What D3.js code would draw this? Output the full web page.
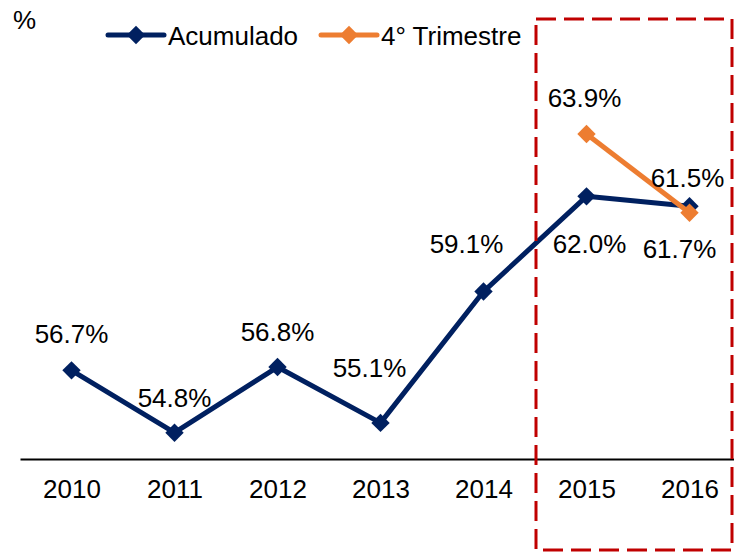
<!DOCTYPE html>
<html>
<head>
<meta charset="utf-8">
<script src="https://cdn.jsdelivr.net/npm/d3@7"></script>
<style>
  html, body { margin: 0; padding: 0; background: #fff; }
  svg { display: block; font-family: "Liberation Sans", Arial, sans-serif; }
</style>
</head>
<body>
<svg id="chart" width="734" height="553"></svg>
<script>
// ---- data ----
const years = ["2010", "2011", "2012", "2013", "2014", "2015", "2016"];
const acumulado = [56.7, 54.8, 56.8, 55.1, 59.1, 62.0, 61.7];
const trimYears = ["2015", "2016"];
const trimestre = [63.9, 61.5];
const seriesNames = ["Acumulado", "4° Trimestre"];
const yAxisLabel = "%";

// label placement (offsets from point: dx, dy to baseline)
const acumLabelOffsets = [[0, -27], [0, -26], [0, -26], [-11, -46], [-17, -39], [3, 57], [-10, 52]];
const trimLabelOffsets = [[-2, -27], [-2, -26]];

const navy = "#002060";
const orange = "#ED7D31";
const fontSize = 26;

const svg = d3.select("#chart");

const x = d3.scalePoint().domain(years).range([20, 741]).padding(0.5);
const y = d3.scaleLinear().domain([54, 66]).range([459, 65]);

// axis
const axis = d3.axisBottom(x).tickSize(0).tickPadding(21);
const gAxis = svg.append("g").attr("transform", `translate(0,${y(54)})`).call(axis);
gAxis.select(".domain").attr("stroke", "#000").attr("stroke-width", 2);
gAxis.selectAll("text").attr("font-size", fontSize).attr("font-family", "Liberation Sans, Arial, sans-serif").attr("fill", "#000");

// y label
svg.append("text").attr("x", 13).attr("y", 29).attr("font-size", fontSize).text(yAxisLabel);

const diamond = d3.symbol().type(d3.symbolSquare).size(169);

function drawSeries(xs, vals, color, offsets) {
  const pts = xs.map((k, i) => ({ k, v: vals[i], off: offsets[i] }));
  const line = d3.line().x(d => x(d.k)).y(d => y(d.v));
  svg.append("path").datum(pts)
    .attr("d", line).attr("fill", "none")
    .attr("stroke", color).attr("stroke-width", 5).attr("stroke-linejoin", "round");
  svg.append("g").selectAll("path").data(pts).join("path")
    .attr("d", diamond)
    .attr("transform", d => `translate(${x(d.k)},${y(d.v)}) rotate(45)`)
    .attr("fill", color);
  return pts;
}

const acPts = drawSeries(years, acumulado, navy, acumLabelOffsets);
const trPts = drawSeries(trimYears, trimestre, orange, trimLabelOffsets);

// labels
function drawLabels(pts) {
  svg.append("g").selectAll("text").data(pts).join("text")
    .attr("x", d => x(d.k) + d.off[0])
    .attr("y", d => y(d.v) + d.off[1])
    .attr("text-anchor", "middle")
    .attr("font-size", fontSize)
    .attr("fill", "#000")
    .text(d => d.v.toFixed(1) + "%");
}
drawLabels(acPts);
drawLabels(trPts);

// legend
const legend = [
  { name: seriesNames[0], color: navy, x0: 108 },
  { name: seriesNames[1], color: orange, x0: 321 }
];
const lg = svg.append("g").selectAll("g").data(legend).join("g")
  .attr("transform", d => `translate(${d.x0},35)`);
lg.append("line").attr("x1", 0).attr("x2", 56).attr("y1", 0).attr("y2", 0)
  .attr("stroke", d => d.color).attr("stroke-width", 5).attr("stroke-linecap", "round");
lg.append("path").attr("d", diamond).attr("transform", "translate(28,0) rotate(45)")
  .attr("fill", d => d.color);
lg.append("text").attr("x", 60).attr("y", 10).attr("font-size", fontSize).attr("fill", "#000")
  .text(d => d.name);

// highlight box
svg.append("rect")
  .attr("x", 536).attr("y", 19).attr("width", 196).attr("height", 531)
  .attr("fill", "none").attr("stroke", "#C00000").attr("stroke-width", 3)
  .attr("stroke-dasharray", "20,8");
</script>
</body>
</html>
